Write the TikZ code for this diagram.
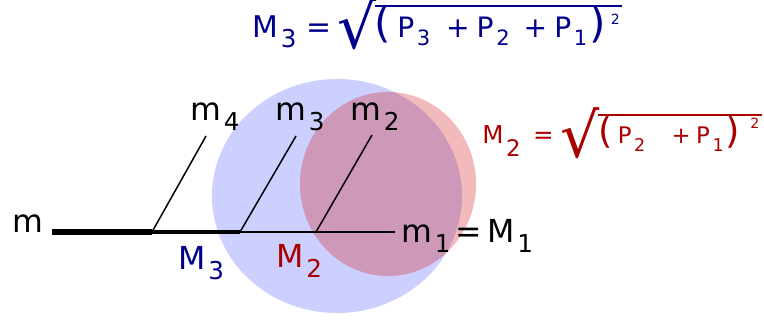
\documentclass[tikz,border=0pt]{standalone}
\usepackage{fontspec}
\setmainfont{DejaVu Sans}
\usepackage{xcolor}
\usepackage{tikz}
\usetikzlibrary{positioning}
\definecolor{massblue}{RGB}{0,0,140}
\definecolor{massred}{RGB}{170,0,0}
\definecolor{discblue}{RGB}{205,207,255}
\definecolor{discred}{RGB}{211,25,25}
\newcommand{\msub}[3]{\hspace{1.5pt}\raisebox{#2}{\fontsize{#1}{#1}\selectfont #3}}
\newcommand{\lsub}[1]{\msub{14}{-5.7pt}{#1}}
\newcommand{\bigpar}[2]{{\fontsize{#1}{#1}\selectfont #2}}
\newcommand{\sq}[2]{\raisebox{#1}{\fontsize{8}{8}\selectfont #2}}
\newcommand{\rootsign}[2]{\setbox0\hbox{#2}\raisebox{-#1}{\fontsize{35}{35}\selectfont √}\kern-1pt\rlap{\rule[\dimexpr 24.8pt-#1-1.2pt\relax]{\wd0}{1.2pt}}\box0}
\tikzset{masslabel/.style={font=\fontsize{18}{20}\selectfont, inner sep=0pt, anchor=base west}, formula/.style={font=\fontsize{17}{20}\selectfont, inner sep=0pt, anchor=base west}, rod/.style={line cap=butt, draw=black}, arm/.style={line width=0.85pt, draw=black}}

\begin{document}
\begin{tikzpicture}[x=0.02cm, y=-0.02cm]
\useasboundingbox (0,0) rectangle (764,321);
\fill[discblue] (337,196) ellipse [x radius=125, y radius=117];
\fill[discred, fill opacity=0.3] (388,184) ellipse [x radius=88, y radius=92];
\coordinate (end) at (52,232);
\coordinate (j4) at (152,232);
\coordinate (j3) at (240,232);
\coordinate (j2) at (316,232);
\coordinate (j1) at (395,232);
\coordinate (t4) at (206,136);
\coordinate (t3) at (296,136);
\coordinate (t2) at (372,135);
\draw[rod, line width=3.4pt] (end) -- (j4);
\draw[rod, line width=1.8pt] (j4) -- (j3);
\draw[rod, line width=1.3pt] (j3) -- (j2);
\draw[rod, line width=0.7pt] (j2) -- (j1);
\draw[arm] (j4) -- (t4);
\draw[arm] (j3) -- (t3);
\draw[arm] (j2) -- (t2);
\node[masslabel] (m) at (12,232) {m};
\node[masslabel] (m4) at (190,120) {m\lsub{4}};
\node[masslabel] (m3) at (275,120) {m\lsub{3}};
\node[masslabel] (m2) at (350,120) {m\lsub{2}};
\node[masslabel] (m1) at (401,242) {m\lsub{1}\,=\,M\lsub{1}};
\node[masslabel, text=massblue] (M3) at (178,269) {M\lsub{3}};
\node[masslabel, text=massred] (M2) at (276,267) {M\lsub{2}};
\node[formula, text=massblue] (sumthree) at (252,37) {M\lsub{3}\hspace{6pt}=\hspace{3pt}\rootsign{6.8pt}{\bigpar{24}{(}\hspace{3.5pt}{\fontsize{16}{18}\selectfont P\msub{12}{-5pt}{3}\hspace{9pt}+\hspace{4pt}P\msub{12}{-5pt}{2}\hspace{8pt}+\hspace{4pt}P\msub{12}{-5pt}{1}}\hspace{1pt}\bigpar{24}{)}\hspace{3pt}\sq{7pt}{2}\hspace{1.5pt}}};
\node[formula, text=massred, font=\fontsize{14}{17}\selectfont] (sumtwo) at (482,143) {M\msub{13}{-7.5pt}{2}\hspace{7pt}=\hspace{4pt}\rootsign{8.5pt}{\bigpar{21}{(}\hspace{3pt}{\fontsize{13}{15}\selectfont P\msub{10}{-5pt}{2}\hspace{15pt}+\hspace{3pt}P\msub{10}{-5pt}{1}}\hspace{1pt}\bigpar{21}{)}\hspace{6pt}\sq{8pt}{2}\hspace{1.5pt}}};
\end{tikzpicture}
\end{document}
